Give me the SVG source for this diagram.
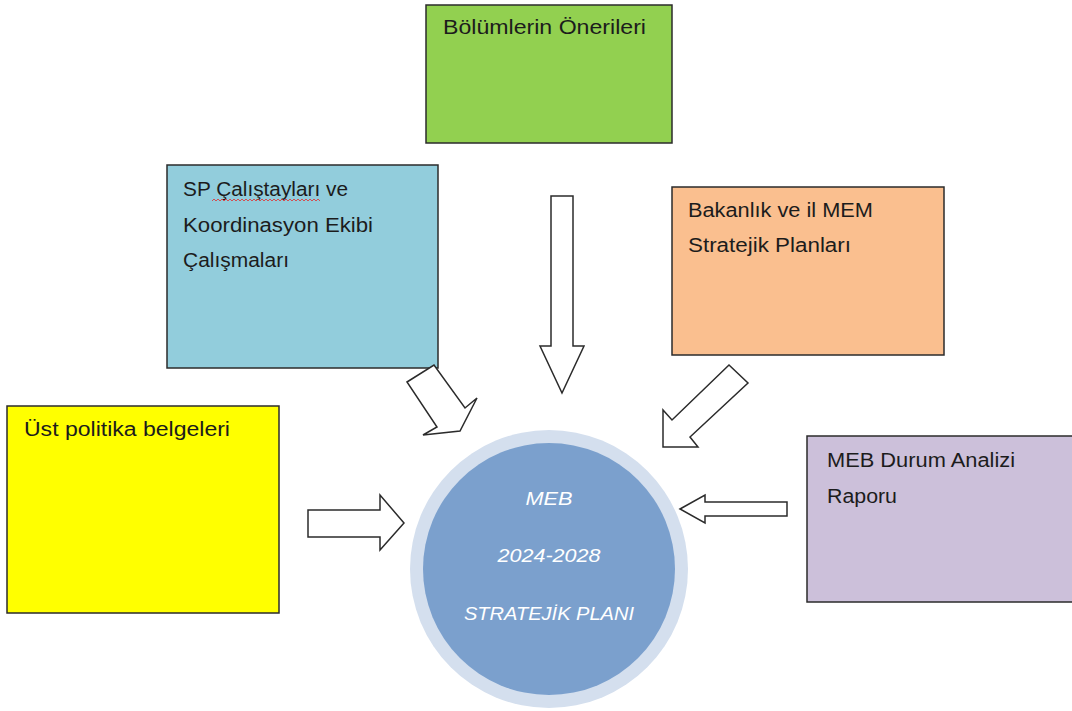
<svg xmlns="http://www.w3.org/2000/svg" width="1072" height="711" viewBox="0 0 1072 711">
<style>
.box{stroke:#2b2b2b;stroke-width:1.5}
.lbl{font-family:"Liberation Sans",Arial,sans-serif;font-size:20px;fill:#1c1c1c}
.ctr{font-family:"Liberation Sans",Arial,sans-serif;font-size:18px;font-style:italic;fill:#ffffff;text-anchor:middle}
.arr{fill:#ffffff;stroke:#2b2b2b;stroke-width:1.5;stroke-linejoin:miter}
</style>
<rect width="1072" height="711" fill="#ffffff"/>
<g id="node-bolumler">
<rect class="box" x="426" y="5" width="246" height="138" fill="#92d050"/>
<text class="lbl" x="443" y="34" textLength="203" lengthAdjust="spacingAndGlyphs">Bölümlerin Önerileri</text>
</g>
<g id="node-sp">
<rect class="box" x="167" y="165" width="271" height="203" fill="#92cddc"/>
<text class="lbl" x="183" y="196" textLength="165" lengthAdjust="spacingAndGlyphs">SP Çalıştayları ve</text>
<text class="lbl" x="183" y="232" textLength="190" lengthAdjust="spacingAndGlyphs">Koordinasyon Ekibi</text>
<text class="lbl" x="183" y="267" textLength="106" lengthAdjust="spacingAndGlyphs">Çalışmaları</text>
<path d="M212 201 l2 -2 l2 2 l2 -2 l2 2 l2 -2 l2 2 l2 -2 l2 2 l2 -2 l2 2 l2 -2 l2 2 l2 -2 l2 2 l2 -2 l2 2 l2 -2 l2 2 l2 -2 l2 2 l2 -2 l2 2 l2 -2 l2 2 l2 -2 l2 2 l2 -2 l2 2 l2 -2 l2 2 l2 -2 l2 2 l2 -2 l2 2 l2 -2 l2 2 l2 -2 l2 2 l2 -2 l2 2 l2 -2 l2 2 l2 -2 l2 2 l2 -2 l2 2 l2 -2 l2 2 l2 -2 l2 2 l2 -2 l2 2 l2 -2 l2 2" fill="none" stroke="#e03030" stroke-width="0.8"/>
</g>
<g id="node-bakanlik">
<rect class="box" x="672" y="187" width="272" height="168" fill="#fabf8f"/>
<text class="lbl" x="688" y="217" textLength="185" lengthAdjust="spacingAndGlyphs">Bakanlık ve il MEM</text>
<text class="lbl" x="688" y="252" textLength="163" lengthAdjust="spacingAndGlyphs">Stratejik Planları</text>
</g>
<g id="node-ust">
<rect class="box" x="7" y="406" width="272" height="207" fill="#ffff00"/>
<text class="lbl" x="24" y="436" textLength="206" lengthAdjust="spacingAndGlyphs">Üst politika belgeleri</text>
</g>
<g id="node-durum">
<rect class="box" x="807" y="436" width="266" height="166" fill="#ccc0da"/>
<text class="lbl" x="827" y="467" textLength="188" lengthAdjust="spacingAndGlyphs">MEB Durum Analizi</text>
<text class="lbl" x="827" y="503" textLength="70" lengthAdjust="spacingAndGlyphs">Raporu</text>
</g>
<g id="node-plan">
<circle cx="549" cy="569" r="139" fill="#d4dfee"/>
<circle cx="549" cy="569" r="126" fill="#7ba0cd"/>
<text class="ctr" x="549" y="505" textLength="47" lengthAdjust="spacingAndGlyphs">MEB</text>
<text class="ctr" x="549" y="562" textLength="103" lengthAdjust="spacingAndGlyphs">2024-2028</text>
<text class="ctr" x="549" y="620" textLength="170" lengthAdjust="spacingAndGlyphs">STRATEJİK PLANI</text>
</g>
<g id="connectors">
<polygon class="arr" points="551,196 573,196 573,346 584,346 562,393 540,346 551,346"/>
<polygon class="arr" points="407,382 434,365 465,408 477,398 460,431 423,435 437,427"/>
<polygon class="arr" points="729,365 748,383 690,437 698,447 663,447 663,410 672,420"/>
<polygon class="arr" points="308,510 380,510 380,495 404,523 380,550 380,537 308,537"/>
<polygon class="arr" points="680,509 705,495 705,502 787,502 787,516 705,516 705,523"/>
</g>
</svg>
